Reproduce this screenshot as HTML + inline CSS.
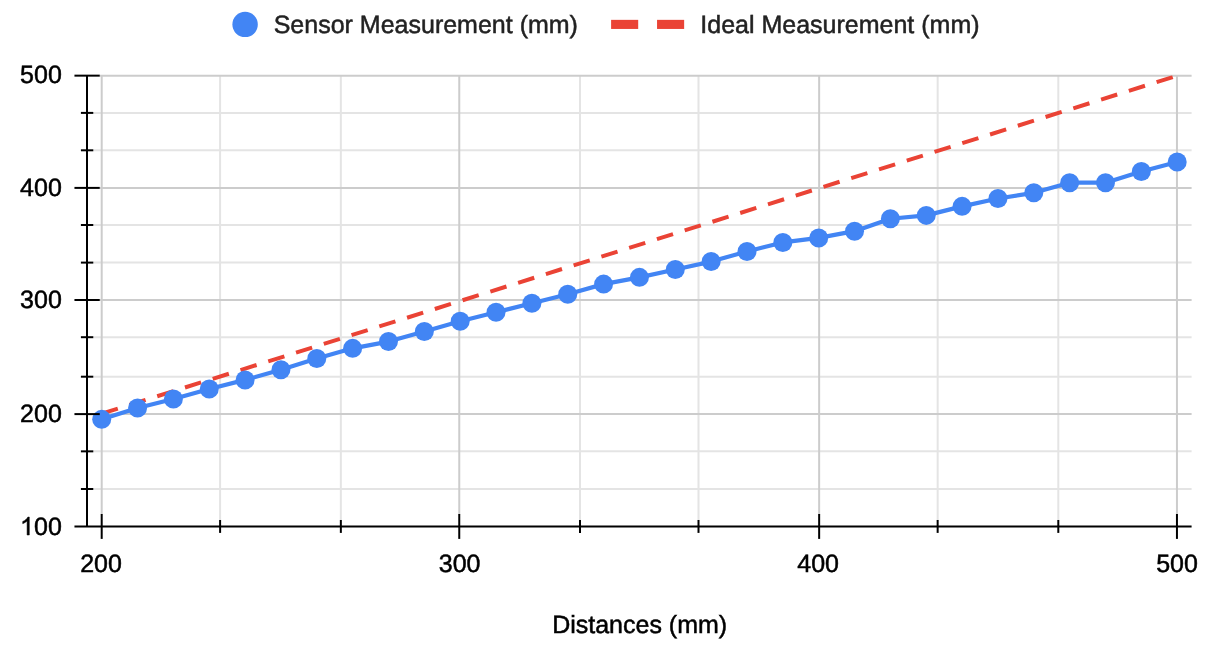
<!DOCTYPE html>
<html><head><meta charset="utf-8"><title>Chart</title>
<style>html,body{margin:0;padding:0;background:#fff}svg{display:block;will-change:transform}text{font-family:"Liberation Sans",sans-serif;text-rendering:geometricPrecision}</style></head>
<body>
<svg width="1229" height="652" viewBox="0 0 1229 652">
<rect width="1229" height="652" fill="#fff"/>
<defs><clipPath id="c"><rect x="100.70" y="75.15" width="1077.50" height="452.75"/></clipPath></defs>
<g stroke="#e4e4e4" stroke-width="2">
<line x1="93.30" x2="1191.60" y1="112.90" y2="112.90"/>
<line x1="93.30" x2="1191.60" y1="150.30" y2="150.30"/>
<line x1="93.30" x2="1191.60" y1="225.00" y2="225.00"/>
<line x1="93.30" x2="1191.60" y1="262.60" y2="262.60"/>
<line x1="93.30" x2="1191.60" y1="337.20" y2="337.20"/>
<line x1="93.30" x2="1191.60" y1="376.70" y2="376.70"/>
<line x1="93.30" x2="1191.60" y1="451.35" y2="451.35"/>
<line x1="93.30" x2="1191.60" y1="489.00" y2="489.00"/>
<line x1="220.10" x2="220.10" y1="75.65" y2="520.40"/>
<line x1="340.85" x2="340.85" y1="75.65" y2="520.40"/>
<line x1="580.00" x2="580.00" y1="75.65" y2="520.40"/>
<line x1="698.50" x2="698.50" y1="75.65" y2="520.40"/>
<line x1="937.65" x2="937.65" y1="75.65" y2="520.40"/>
<line x1="1058.30" x2="1058.30" y1="75.65" y2="520.40"/>
</g>
<g stroke="#ccc" stroke-width="2">
<line x1="99.70" x2="1191.60" y1="75.65" y2="75.65"/>
<line x1="99.70" x2="1191.60" y1="187.90" y2="187.90"/>
<line x1="99.70" x2="1191.60" y1="300.00" y2="300.00"/>
<line x1="99.70" x2="1191.60" y1="414.10" y2="414.10"/>
<line x1="101.70" x2="101.70" y1="75.65" y2="514.40"/>
<line x1="459.25" x2="459.25" y1="75.65" y2="514.40"/>
<line x1="819.15" x2="819.15" y1="75.65" y2="514.40"/>
<line x1="1176.95" x2="1176.95" y1="75.65" y2="514.40"/>
</g>
<g clip-path="url(#c)"><line x1="101.70" y1="413.71" x2="1177.20" y2="75.65" stroke="#ea4335" stroke-width="4" stroke-dasharray="16.9 12.2"/></g>
<polyline points="101.70,419.35 137.55,408.08 173.40,399.06 209.25,388.92 245.10,379.91 280.95,369.76 316.80,358.50 352.65,348.35 388.50,341.59 424.35,331.45 460.20,321.31 496.05,312.29 531.90,303.28 567.75,294.26 603.60,284.12 639.45,277.36 675.30,269.47 711.15,261.58 747.00,251.44 782.85,242.43 818.70,237.92 854.55,231.16 890.40,218.76 926.25,215.38 962.10,206.37 997.95,198.48 1033.80,192.84 1069.65,182.70 1105.50,182.70 1141.35,171.43 1177.20,161.97" fill="none" stroke="#4285f4" stroke-width="4.2" stroke-linejoin="round"/>
<g fill="#4285f4">
<circle cx="101.70" cy="419.35" r="9.5"/>
<circle cx="137.55" cy="408.08" r="9.5"/>
<circle cx="173.40" cy="399.06" r="9.5"/>
<circle cx="209.25" cy="388.92" r="9.5"/>
<circle cx="245.10" cy="379.91" r="9.5"/>
<circle cx="280.95" cy="369.76" r="9.5"/>
<circle cx="316.80" cy="358.50" r="9.5"/>
<circle cx="352.65" cy="348.35" r="9.5"/>
<circle cx="388.50" cy="341.59" r="9.5"/>
<circle cx="424.35" cy="331.45" r="9.5"/>
<circle cx="460.20" cy="321.31" r="9.5"/>
<circle cx="496.05" cy="312.29" r="9.5"/>
<circle cx="531.90" cy="303.28" r="9.5"/>
<circle cx="567.75" cy="294.26" r="9.5"/>
<circle cx="603.60" cy="284.12" r="9.5"/>
<circle cx="639.45" cy="277.36" r="9.5"/>
<circle cx="675.30" cy="269.47" r="9.5"/>
<circle cx="711.15" cy="261.58" r="9.5"/>
<circle cx="747.00" cy="251.44" r="9.5"/>
<circle cx="782.85" cy="242.43" r="9.5"/>
<circle cx="818.70" cy="237.92" r="9.5"/>
<circle cx="854.55" cy="231.16" r="9.5"/>
<circle cx="890.40" cy="218.76" r="9.5"/>
<circle cx="926.25" cy="215.38" r="9.5"/>
<circle cx="962.10" cy="206.37" r="9.5"/>
<circle cx="997.95" cy="198.48" r="9.5"/>
<circle cx="1033.80" cy="192.84" r="9.5"/>
<circle cx="1069.65" cy="182.70" r="9.5"/>
<circle cx="1105.50" cy="182.70" r="9.5"/>
<circle cx="1141.35" cy="171.43" r="9.5"/>
<circle cx="1177.20" cy="161.97" r="9.5"/>
</g>
<g stroke="#000" stroke-width="2">
<line x1="87.00" x2="87.00" y1="75.65" y2="526.40"/>
<line x1="74.45" x2="1191.60" y1="526.40" y2="526.40"/>
<line x1="74.45" x2="99.75" y1="75.65" y2="75.65"/>
<line x1="80.90" x2="93.30" y1="112.90" y2="112.90"/>
<line x1="80.90" x2="93.30" y1="150.30" y2="150.30"/>
<line x1="74.45" x2="99.75" y1="187.90" y2="187.90"/>
<line x1="80.90" x2="93.30" y1="225.00" y2="225.00"/>
<line x1="80.90" x2="93.30" y1="262.60" y2="262.60"/>
<line x1="74.45" x2="99.75" y1="300.00" y2="300.00"/>
<line x1="80.90" x2="93.30" y1="337.20" y2="337.20"/>
<line x1="80.90" x2="93.30" y1="376.70" y2="376.70"/>
<line x1="74.45" x2="99.75" y1="414.10" y2="414.10"/>
<line x1="80.90" x2="93.30" y1="451.35" y2="451.35"/>
<line x1="80.90" x2="93.30" y1="489.00" y2="489.00"/>
<line x1="101.70" x2="101.70" y1="514.00" y2="538.90"/>
<line x1="220.10" x2="220.10" y1="520.00" y2="532.90"/>
<line x1="340.85" x2="340.85" y1="520.00" y2="532.90"/>
<line x1="459.25" x2="459.25" y1="514.00" y2="538.90"/>
<line x1="580.00" x2="580.00" y1="520.00" y2="532.90"/>
<line x1="698.50" x2="698.50" y1="520.00" y2="532.90"/>
<line x1="819.15" x2="819.15" y1="514.00" y2="538.90"/>
<line x1="937.65" x2="937.65" y1="520.00" y2="532.90"/>
<line x1="1058.30" x2="1058.30" y1="520.00" y2="532.90"/>
<line x1="1176.95" x2="1176.95" y1="514.00" y2="538.90"/>
</g>
<circle cx="245.1" cy="24.4" r="12.7" fill="#4285f4"/>
<g font-size="25" fill="#222" stroke="#222" stroke-width="0.5">
<text x="273.7" y="32.85">Sensor Measurement (mm)</text>
<text x="700.3" y="32.85">Ideal Measurement (mm)</text>
</g>
<rect x="611.1" y="19.85" width="27.1" height="9.1" fill="#ea4335"/>
<rect x="657.05" y="19.85" width="27.1" height="9.1" fill="#ea4335"/>
<g font-size="25" fill="#000" stroke="#000" stroke-width="0.5" text-anchor="end">
<text x="61.8" y="82.90">500</text>
<text x="61.8" y="195.80">400</text>
<text x="61.8" y="307.80">300</text>
<text x="61.8" y="421.50">200</text>
<text x="61.8" y="535.00">00</text>
<path transform="translate(19.99 535.00) scale(0.012207 -0.012207)" stroke-width="41.0" d="M763 0H583V1147Q518 1085 412.5 1023T223 930V1104Q374 1175 487 1276T647 1472H763Z"/>
</g>
<g font-size="25" fill="#000" stroke="#000" stroke-width="0.5" text-anchor="middle">
<text x="101.00" y="571.6">200</text>
<text x="459.60" y="571.6">300</text>
<text x="818.15" y="571.6">400</text>
<text x="1177.00" y="571.6">500</text>
<text x="639.65" y="633.3" font-size="25">Distances (mm)</text>
</g>
</svg></body></html>
